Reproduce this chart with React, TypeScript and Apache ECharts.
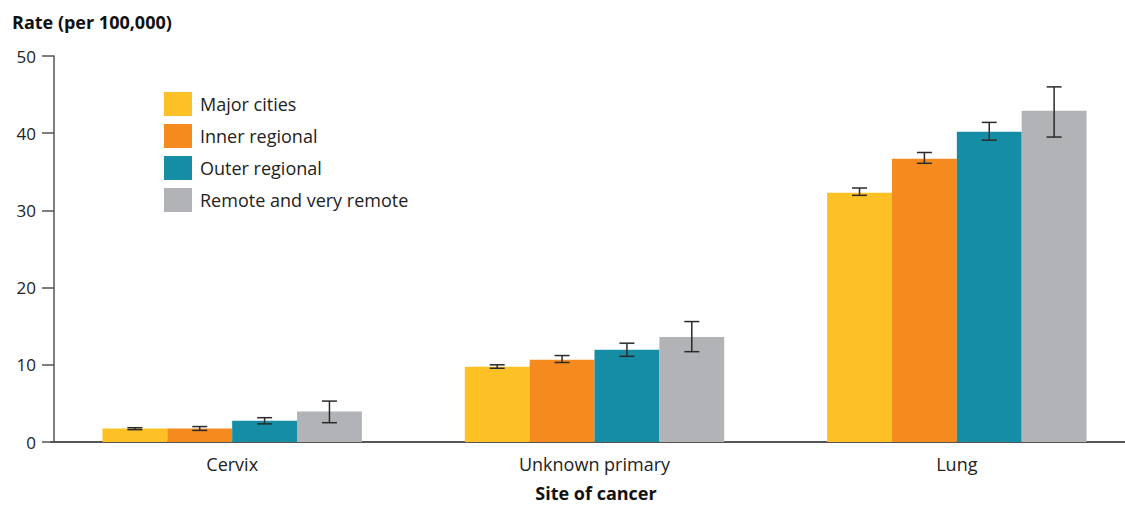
import React, { useEffect, useRef } from "react";
import * as echarts from "echarts";

const categories = ["Cervix", "Unknown primary", "Lung"];
const seriesNames = ["Major cities", "Inner regional", "Outer regional", "Remote and very remote"];
const majorCities = [1.75, 9.75, 32.3];
const innerRegional = [1.75, 10.65, 36.7];
const outerRegional = [2.75, 11.95, 40.2];
const remote = [3.95, 13.6, 42.9];
const majorCitiesLow = [1.6, 9.55, 31.95];
const majorCitiesHigh = [1.85, 10.0, 32.9];
const innerRegionalLow = [1.5, 10.3, 36.1];
const innerRegionalHigh = [2.0, 11.2, 37.5];
const outerRegionalLow = [2.35, 11.1, 39.1];
const outerRegionalHigh = [3.15, 12.8, 41.4];
const remoteLow = [2.5, 11.7, 39.5];
const remoteHigh = [5.3, 15.6, 46.0];
const yTicks = [0, 10, 20, 30, 40, 50];

const colors = ["#FDC125", "#F58B1F", "#158DA5", "#B1B3B6"];
const FONT = "'Open Sans', 'Noto Sans', sans-serif";
const BAR_FRAC = 0.179;

export default function App() {
  const ref = useRef<HTMLDivElement>(null);
  useEffect(() => {
    if (!ref.current) return;
    const chart = echarts.init(ref.current, null, { renderer: "svg" });
    const values = [majorCities, innerRegional, outerRegional, remote];
    const lows = [majorCitiesLow, innerRegionalLow, outerRegionalLow, remoteLow];
    const highs = [majorCitiesHigh, innerRegionalHigh, outerRegionalHigh, remoteHigh];
    const errData: number[][] = [];
    categories.forEach((_, c) => {
      for (let s = 0; s < 4; s++) errData.push([c, s, lows[s][c], highs[s][c]]);
    });
    chart.setOption({
      animation: false,
      color: colors,
      textStyle: { fontFamily: FONT },
      grid: {
        left: 51,
        top: 56,
        width: 1087,
        height: 386,
        containLabel: false,
        outerBoundsMode: "none",
      },
      legend: {
        data: seriesNames,
        orient: "vertical",
        left: 159,
        top: 87,
        itemWidth: 28,
        itemHeight: 24,
        itemGap: 8,
        icon: "rect",
        textStyle: { fontSize: 18, color: "#222", fontFamily: FONT, padding: [0, 0, 0, 3] },
      },
      graphic: [
        {
          type: "text",
          left: 12,
          top: 13,
          style: { text: "Rate (per 100,000)", font: `bold 18px ${FONT}`, fill: "#111" },
        },
        {
          type: "text",
          x: 596,
          y: 493,
          style: {
            text: "Site of cancer",
            font: `bold 18px ${FONT}`,
            fill: "#111",
            align: "center",
            verticalAlign: "middle",
          },
        },
      ],
      xAxis: {
        type: "category",
        data: categories,
        axisLine: { lineStyle: { color: "#555", width: 2 } },
        axisTick: { show: false },
        axisLabel: { fontSize: 18, color: "#222", margin: 13, fontFamily: FONT },
      },
      yAxis: {
        type: "value",
        min: 0,
        max: 50,
        interval: 10,
        offset: -3,
        axisLine: { show: true, lineStyle: { color: "#555", width: 1.5 } },
        axisTick: { show: true, inside: false, length: 12, lineStyle: { color: "#555", width: 1.5 } },
        splitLine: { show: false },
        axisLabel: {
          fontSize: 17,
          color: "#222",
          margin: 18,
          fontFamily: FONT,
          formatter: (v: number) => (yTicks.includes(v) ? String(v) : ""),
        },
      },
      series: [
        ...seriesNames.map((name, i) => ({
          name,
          type: "bar",
          data: values[i],
          barWidth: `${BAR_FRAC * 100}%`,
          barGap: "0%",
          itemStyle: { color: colors[i] },
        })),
        {
          type: "custom",
          name: "errors",
          data: errData,
          z: 10,
          renderItem: (params: any, api: any) => {
            const c = api.value(0);
            const s = api.value(1);
            const lo = api.value(2);
            const hi = api.value(3);
            const band = api.size([1, 0])[0];
            const bw = band * BAR_FRAC;
            const center = api.coord([c, 0])[0];
            const x = center + (s - 1.5) * bw;
            const yLo = api.coord([c, lo])[1];
            const yHi = api.coord([c, hi])[1];
            const cap = 7.5;
            const style = { stroke: "#2a2a2a", lineWidth: 1.5 };
            return {
              type: "group",
              children: [
                { type: "line", shape: { x1: x, y1: yLo, x2: x, y2: yHi }, style },
                { type: "line", shape: { x1: x - cap, y1: yLo, x2: x + cap, y2: yLo }, style },
                { type: "line", shape: { x1: x - cap, y1: yHi, x2: x + cap, y2: yHi }, style },
              ],
            };
          },
        },
      ],
    });
    return () => chart.dispose();
  }, []);
  return <div ref={ref} style={{ width: 1125, height: 506, position: "absolute", left: 0, top: 0 }} />;
}
